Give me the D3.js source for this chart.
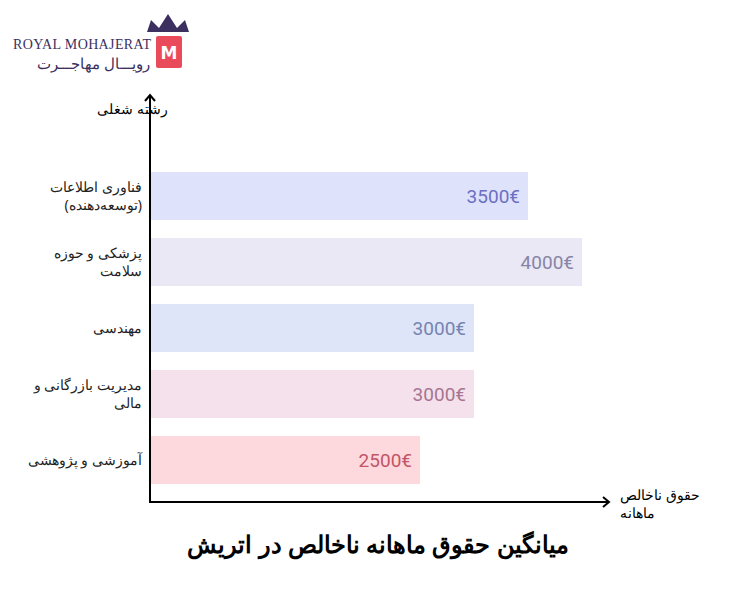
<!DOCTYPE html>
<html><head><meta charset="utf-8">
<script src="https://cdn.jsdelivr.net/npm/d3@7"></script>
<style>body{margin:0;background:#fff}svg{display:block}</style>
</head><body>
<svg id="c" width="738" height="610"></svg>
<script>
const categories = [["فناوری اطلاعات","(توسعه‌دهنده)"],["پزشکی و حوزه","سلامت"],["مهندسی"],["مدیریت بازرگانی و","مالی"],["آموزشی و پژوهشی"]];
const values = [3500, 4000, 3000, 3000, 2500];
const barColors = ["#dfe2fb","#e9e8f4","#dfe5f8","#f4e1ec","#fdd9dd"];
const textColors = ["#6b70c4","#8685a6","#7584b0","#a77590","#c25566"];

const svg = d3.select("#c");
const x = d3.scaleLinear().domain([0, 4000]).range([150, 582]);
const y = d3.scaleBand().domain(d3.range(values.length)).range([163, 493]).paddingInner(0.273).paddingOuter(0.136);

svg.selectAll("rect.bar").data(values).join("rect")
  .attr("x", x(0)).attr("y", (d,i)=>y(i)).attr("width", d=>x(d)-x(0)).attr("height", y.bandwidth())
  .attr("fill", (d,i)=>barColors[i]);
svg.selectAll("text.val").data(values).join("text")
  .attr("x", d=>x(d)-8).attr("y", (d,i)=>y(i)+y.bandwidth()/2+7)
  .attr("text-anchor","end").attr("font-family","Roboto").attr("font-size",19)
  .attr("fill",(d,i)=>textColors[i]).text(d=>d+"€");

const labels = svg.selectAll("text.cat").data(categories).join("text")
  .attr("text-anchor","start").attr("direction","rtl").attr("font-family","Noto Sans").attr("font-size",14).attr("fill","#222");
labels.each(function(lines,i){
  const t=d3.select(this); const cy=y(i)+y.bandwidth()/2; const n=lines.length;
  lines.forEach((l,j)=>t.append("tspan").attr("x",142).attr("y",cy+5+(j-(n-1)/2)*18).text(l));
});

// axes
svg.append("line").attr("x1",150).attr("x2",150).attr("y1",96).attr("y2",502).attr("stroke","#000").attr("stroke-width",2);
svg.append("line").attr("x1",149).attr("x2",608).attr("y1",502).attr("y2",502).attr("stroke","#000").attr("stroke-width",2);
svg.append("path").attr("d","M145,101 L150,95 L155,101").attr("fill","none").attr("stroke","#000").attr("stroke-width",2);
svg.append("path").attr("d","M603,497 L609,502 L603,507").attr("fill","none").attr("stroke","#000").attr("stroke-width",2);
svg.append("text").attr("x",168).attr("y",114).attr("text-anchor","start").attr("direction","rtl").attr("font-family","Noto Sans").attr("font-size",14).text("رشته شغلی");
const xl = svg.append("text").attr("text-anchor","end").attr("direction","rtl").attr("font-family","Noto Sans").attr("font-size",14);
xl.append("tspan").attr("x",620).attr("y",500).text("حقوق ناخالص");
xl.append("tspan").attr("x",620).attr("y",518).text("ماهانه");

svg.append("text").attr("x",378).attr("y",553).attr("text-anchor","middle").attr("direction","rtl")
  .attr("font-family","Noto Sans").attr("font-weight",900).attr("font-size",24).attr("fill","#000").text("میانگین حقوق ماهانه ناخالص در اتریش");

// logo
svg.append("text").attr("x",13).attr("y",49).attr("font-family","Liberation Serif").attr("font-size",14).attr("textLength",138).attr("fill","#3b3060").text("ROYAL MOHAJERAT");
svg.append("text").attr("x",150).attr("y",69).attr("text-anchor","start").attr("direction","rtl").attr("font-family","Noto Sans").attr("font-size",15).attr("fill","#3b3060").text("رویـــال مهاجـــرت");
svg.append("path").attr("d","M147,32 L151,20 L159,28 L168,14 L177,28 L185,20 L189,32 Z").attr("fill","#3b3060");
svg.append("rect").attr("x",156).attr("y",36).attr("width",26).attr("height",32).attr("fill","#e94b5b").attr("rx",2);
svg.append("text").attr("x",169).attr("y",59).attr("text-anchor","middle").attr("font-family","DejaVu Sans").attr("font-weight","bold").attr("font-size",17).attr("fill","#fff").text("M");
</script>
</body></html>
